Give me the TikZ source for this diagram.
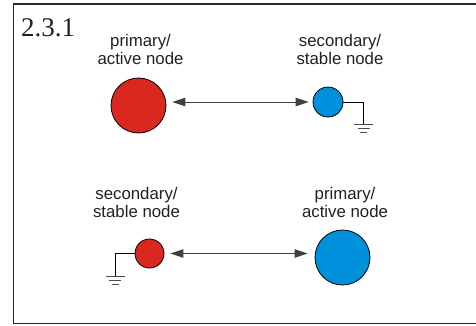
\documentclass[tikz,border=0pt]{standalone}
\usepackage{fontspec}
\setmainfont{Liberation Sans}
\newfontfamily\numfont{Liberation Serif}
\usetikzlibrary{arrows.meta}
\definecolor{nodered}{RGB}{218,40,32}
\definecolor{nodeblue}{RGB}{0,145,220}
\definecolor{framegray}{RGB}{40,40,40}
\definecolor{textgray}{RGB}{35,31,32}
\begin{document}
\begin{tikzpicture}[x=1pt,y=-1pt,
  netnode/.style={circle,draw=black,line width=0.8pt,inner sep=0pt},
  lbl/.style={align=center,inner sep=0pt,anchor=base,text=textgray,
    font=\fontsize{16.8}{18}\selectfont},
  conn/.style={line width=0.9pt,draw=black!75,
    {Triangle[length=13pt,width=8.5pt]}-{Triangle[length=13pt,width=8.5pt]}},
  wire/.style={line width=0.9pt,draw=black},
  gbar/.style={line width=0.9pt,draw=black!70}]
\useasboundingbox (0,0) rectangle (476,325);
% frame
\draw[framegray,line width=1.3pt] (476,4) -- (13.5,4) -- (13.5,323.5) -- (476,323.5);
\node[anchor=base west,inner sep=0pt,text=textgray,font=\numfont\fontsize{27}{30}\selectfont] (title) at (21,36.5) {2.3.1};
% top row
\node[netnode,fill=nodered,minimum size=55pt] (pa) at (138.5,105.5) {};
\node[netnode,fill=nodeblue,minimum size=30pt] (sb) at (328,102) {};
\node[lbl] (pal) at (140.5,64) {primary/\\active node};
\node[lbl] (sbl) at (340,64) {secondary/\\stable node};
\draw[conn,shorten <=6pt,shorten >=4pt] (pa.east |- sb.west) -- (sb.west);
\coordinate (g1) at (363.5,124);
\draw[wire] (sb.east) -| (g1);
\draw[gbar] (g1) ++(-9.5,0) -- ++(19,0);
\draw[gbar] (g1) ++(-6,4.3) -- ++(12,0);
\draw[gbar] (g1) ++(-3.5,8.6) -- ++(7,0);
% bottom row
\node[netnode,fill=nodered,minimum size=29pt] (sa) at (149.5,253.5) {};
\node[netnode,fill=nodeblue,minimum size=55pt] (pb) at (342.5,257.5) {};
\node[lbl] (sal) at (136.5,217) {secondary/\\stable node};
\node[lbl] (pbl) at (345,217) {primary/\\active node};
\draw[conn,shorten <=6pt,shorten >=7pt] (sa.east) -- (pb.west |- sa.east);
\coordinate (g2) at (115,276);
\draw[wire] (sa.west) -| (g2);
\draw[gbar] (g2) ++(-9.5,0) -- ++(19,0);
\draw[gbar] (g2) ++(-6,4.3) -- ++(12,0);
\draw[gbar] (g2) ++(-3.5,8.6) -- ++(7,0);
\end{tikzpicture}
\end{document}
